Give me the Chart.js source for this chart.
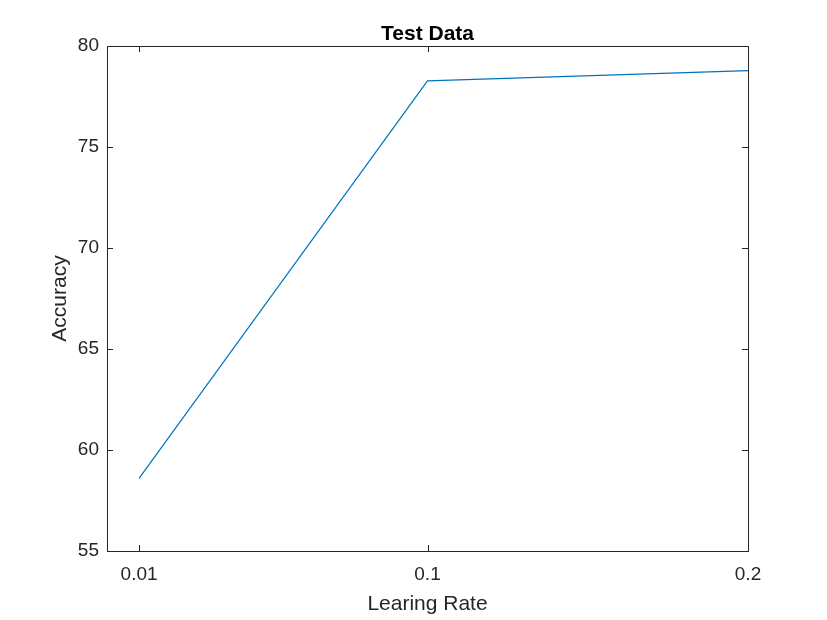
<!DOCTYPE html>
<html>
<head>
<meta charset="utf-8">
<script src="https://cdn.jsdelivr.net/npm/chart.js@4"></script>
<style>
  body { margin: 0; background: #fff; }
</style>
</head>
<body>
<canvas id="myChart" width="827" height="620"></canvas>
<script>
// learning rates and test accuracy
const learningRates = [0.01, 0.1, 0.2]
const accuracy = [58.6, 78.27, 78.78]
const xTicks = [0.01, 0.1, 0.2]
const yTicks = [55, 60, 65, 70, 75, 80]

const axisColor = '#262626'
const fontFamily = 'Arial, "Liberation Sans", Helvetica, sans-serif'

// MATLAB style box round the axes, ticks pointing inwards on all sides
const boxPlugin = {
  id: 'box',
  afterDraw(chart) {
    const ctx = chart.ctx
    const a = chart.chartArea
    const xs = chart.scales.x
    const ys = chart.scales.y
    const len = 6
    ctx.save()
    ctx.strokeStyle = axisColor
    ctx.lineWidth = 1
    ctx.strokeRect(Math.round(a.left) + 0.5, Math.round(a.top) + 0.5,
      Math.round(a.right - a.left), Math.round(a.bottom - a.top))
    ctx.beginPath()
    xs.ticks.forEach(t => {
      const px = Math.round(xs.getPixelForValue(t.value)) + 0.5
      ctx.moveTo(px, a.bottom); ctx.lineTo(px, a.bottom - len)
      ctx.moveTo(px, a.top); ctx.lineTo(px, a.top + len)
    })
    ys.ticks.forEach(t => {
      const py = Math.round(ys.getPixelForValue(t.value)) + 0.5
      ctx.moveTo(a.left, py); ctx.lineTo(a.left + len, py)
      ctx.moveTo(a.right, py); ctx.lineTo(a.right - len, py)
    })
    ctx.stroke()
    ctx.restore()
  }
}

const points = learningRates.map((v, i) => ({ x: v, y: accuracy[i] }))

new Chart(document.getElementById('myChart'), {
  type: 'line',
  data: {
    datasets: [{
      label: 'Test Data',
      data: points,
      borderColor: '#0072BD',
      borderWidth: 1.2,
      pointRadius: 0,
      tension: 0,
      fill: false
    }]
  },
  options: {
    responsive: false,
    animation: false,
    devicePixelRatio: 1,
    layout: { padding: { left: 0, right: 79, top: 0, bottom: 0 } },
    plugins: {
      legend: { display: false },
      tooltip: { enabled: false },
      title: {
        display: true,
        text: 'Test Data',
        fullSize: false,
        color: '#000',
        font: { family: fontFamily, size: 21, weight: 'bold', lineHeight: 1 },
        padding: { top: 24, bottom: 1 }
      }
    },
    scales: {
      x: {
        type: 'linear',
        min: 0,
        max: 0.2,
        afterBuildTicks: scale => { scale.ticks = xTicks.map(v => ({ value: v })) },
        afterFit: scale => { scale.height = 69 },
        grid: { display: false, drawTicks: false },
        border: { display: false },
        ticks: {
          color: axisColor,
          font: { family: fontFamily, size: 19 },
          padding: 12,
          maxRotation: 0,
          callback: v => String(v)
        },
        title: {
          display: true,
          text: 'Learing Rate',
          color: axisColor,
          font: { family: fontFamily, size: 21 },
          padding: { top: 0, bottom: 3 }
        }
      },
      y: {
        min: 55,
        max: 80,
        afterBuildTicks: scale => { scale.ticks = yTicks.map(v => ({ value: v })) },
        afterFit: scale => { scale.width = 107 },
        grid: { display: false, drawTicks: false },
        border: { display: false },
        ticks: {
          color: axisColor,
          font: { family: fontFamily, size: 19 },
          padding: 8
        },
        title: {
          display: true,
          text: 'Accuracy',
          color: axisColor,
          font: { family: fontFamily, size: 21 },
          padding: { top: 48, bottom: 0 }
        }
      }
    }
  },
  plugins: [boxPlugin]
})
</script>
</body>
</html>
